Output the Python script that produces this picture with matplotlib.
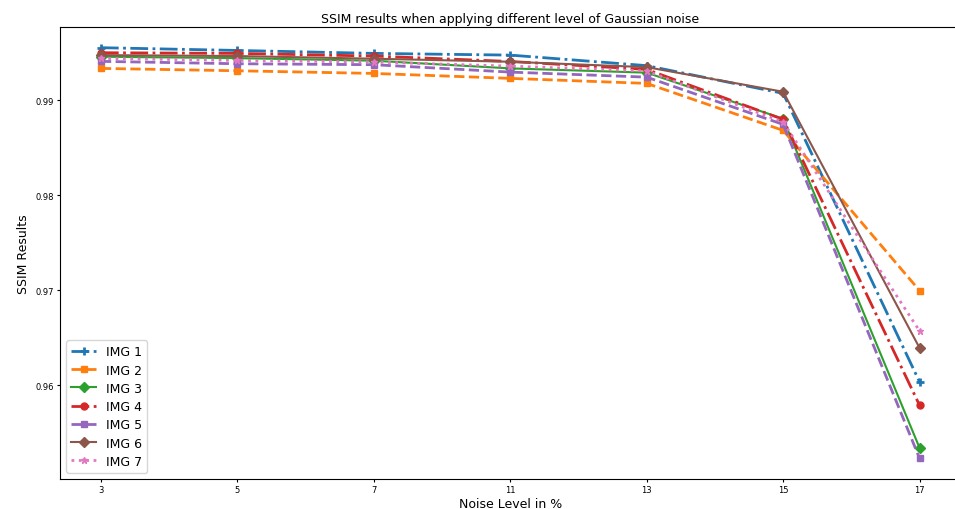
import matplotlib
matplotlib.use("Agg")
import matplotlib.pyplot as plt

# noise levels (categorical positions on x axis)
noise = ['3', '5', '7', '11', '13', '15', '17']

img1 = [0.99555, 0.99526, 0.99495, 0.99477, 0.99366, 0.99074, 0.96035]
img2 = [0.99337, 0.99312, 0.99284, 0.99232, 0.99179, 0.98684, 0.96997]
img3 = [0.99460, 0.99445, 0.99418, 0.99337, 0.99292, 0.98807, 0.95340]
img4 = [0.99502, 0.99495, 0.99467, 0.99410, 0.99326, 0.98800, 0.95789]
img5 = [0.99411, 0.99386, 0.99376, 0.99298, 0.99245, 0.98747, 0.95230]
img6 = [0.99477, 0.99467, 0.99439, 0.99407, 0.99350, 0.99091, 0.96393]
img7 = [0.99442, 0.99421, 0.99404, 0.99361, 0.99310, 0.98772, 0.96572]

fig = plt.figure(figsize=(9.55, 5.1), dpi=100)
ax = fig.add_axes([0.0628, 0.0588, 0.943, 0.886])

ax.plot(noise, img1, '-.', marker='+', markersize=6, markeredgewidth=2, linewidth=2, label='IMG 1')
ax.plot(noise, img2, '--', marker='s', markersize=5, linewidth=2, label='IMG 2')
ax.plot(noise, img3, '-', marker='D', markersize=5, linewidth=1.5, label='IMG 3')
ax.plot(noise, img4, '-.', marker='o', markersize=5, linewidth=2, label='IMG 4')
ax.plot(noise, img5, '--', marker='s', markersize=5, linewidth=2, label='IMG 5')
ax.plot(noise, img6, '-', marker='D', markersize=5, linewidth=1.5, label='IMG 6')
ax.plot(noise, img7, ':', marker='*', markersize=5, linewidth=2, label='IMG 7')

ax.set_title('SSIM results when applying different level of Gaussian noise', fontsize=9, pad=4)
ax.set_xlabel('Noise Level in %', fontsize=9, labelpad=2)
ax.set_ylabel('SSIM Results', fontsize=9, labelpad=4)
ax.set_yticks([0.96, 0.97, 0.98, 0.99])
ax.tick_params(labelsize=6, length=2.5, pad=2)
for s in ax.spines.values():
    s.set_linewidth(0.8)
ax.legend(loc='lower left', fontsize=9, labelspacing=0.42)

fig.savefig('out.png', dpi=100)
